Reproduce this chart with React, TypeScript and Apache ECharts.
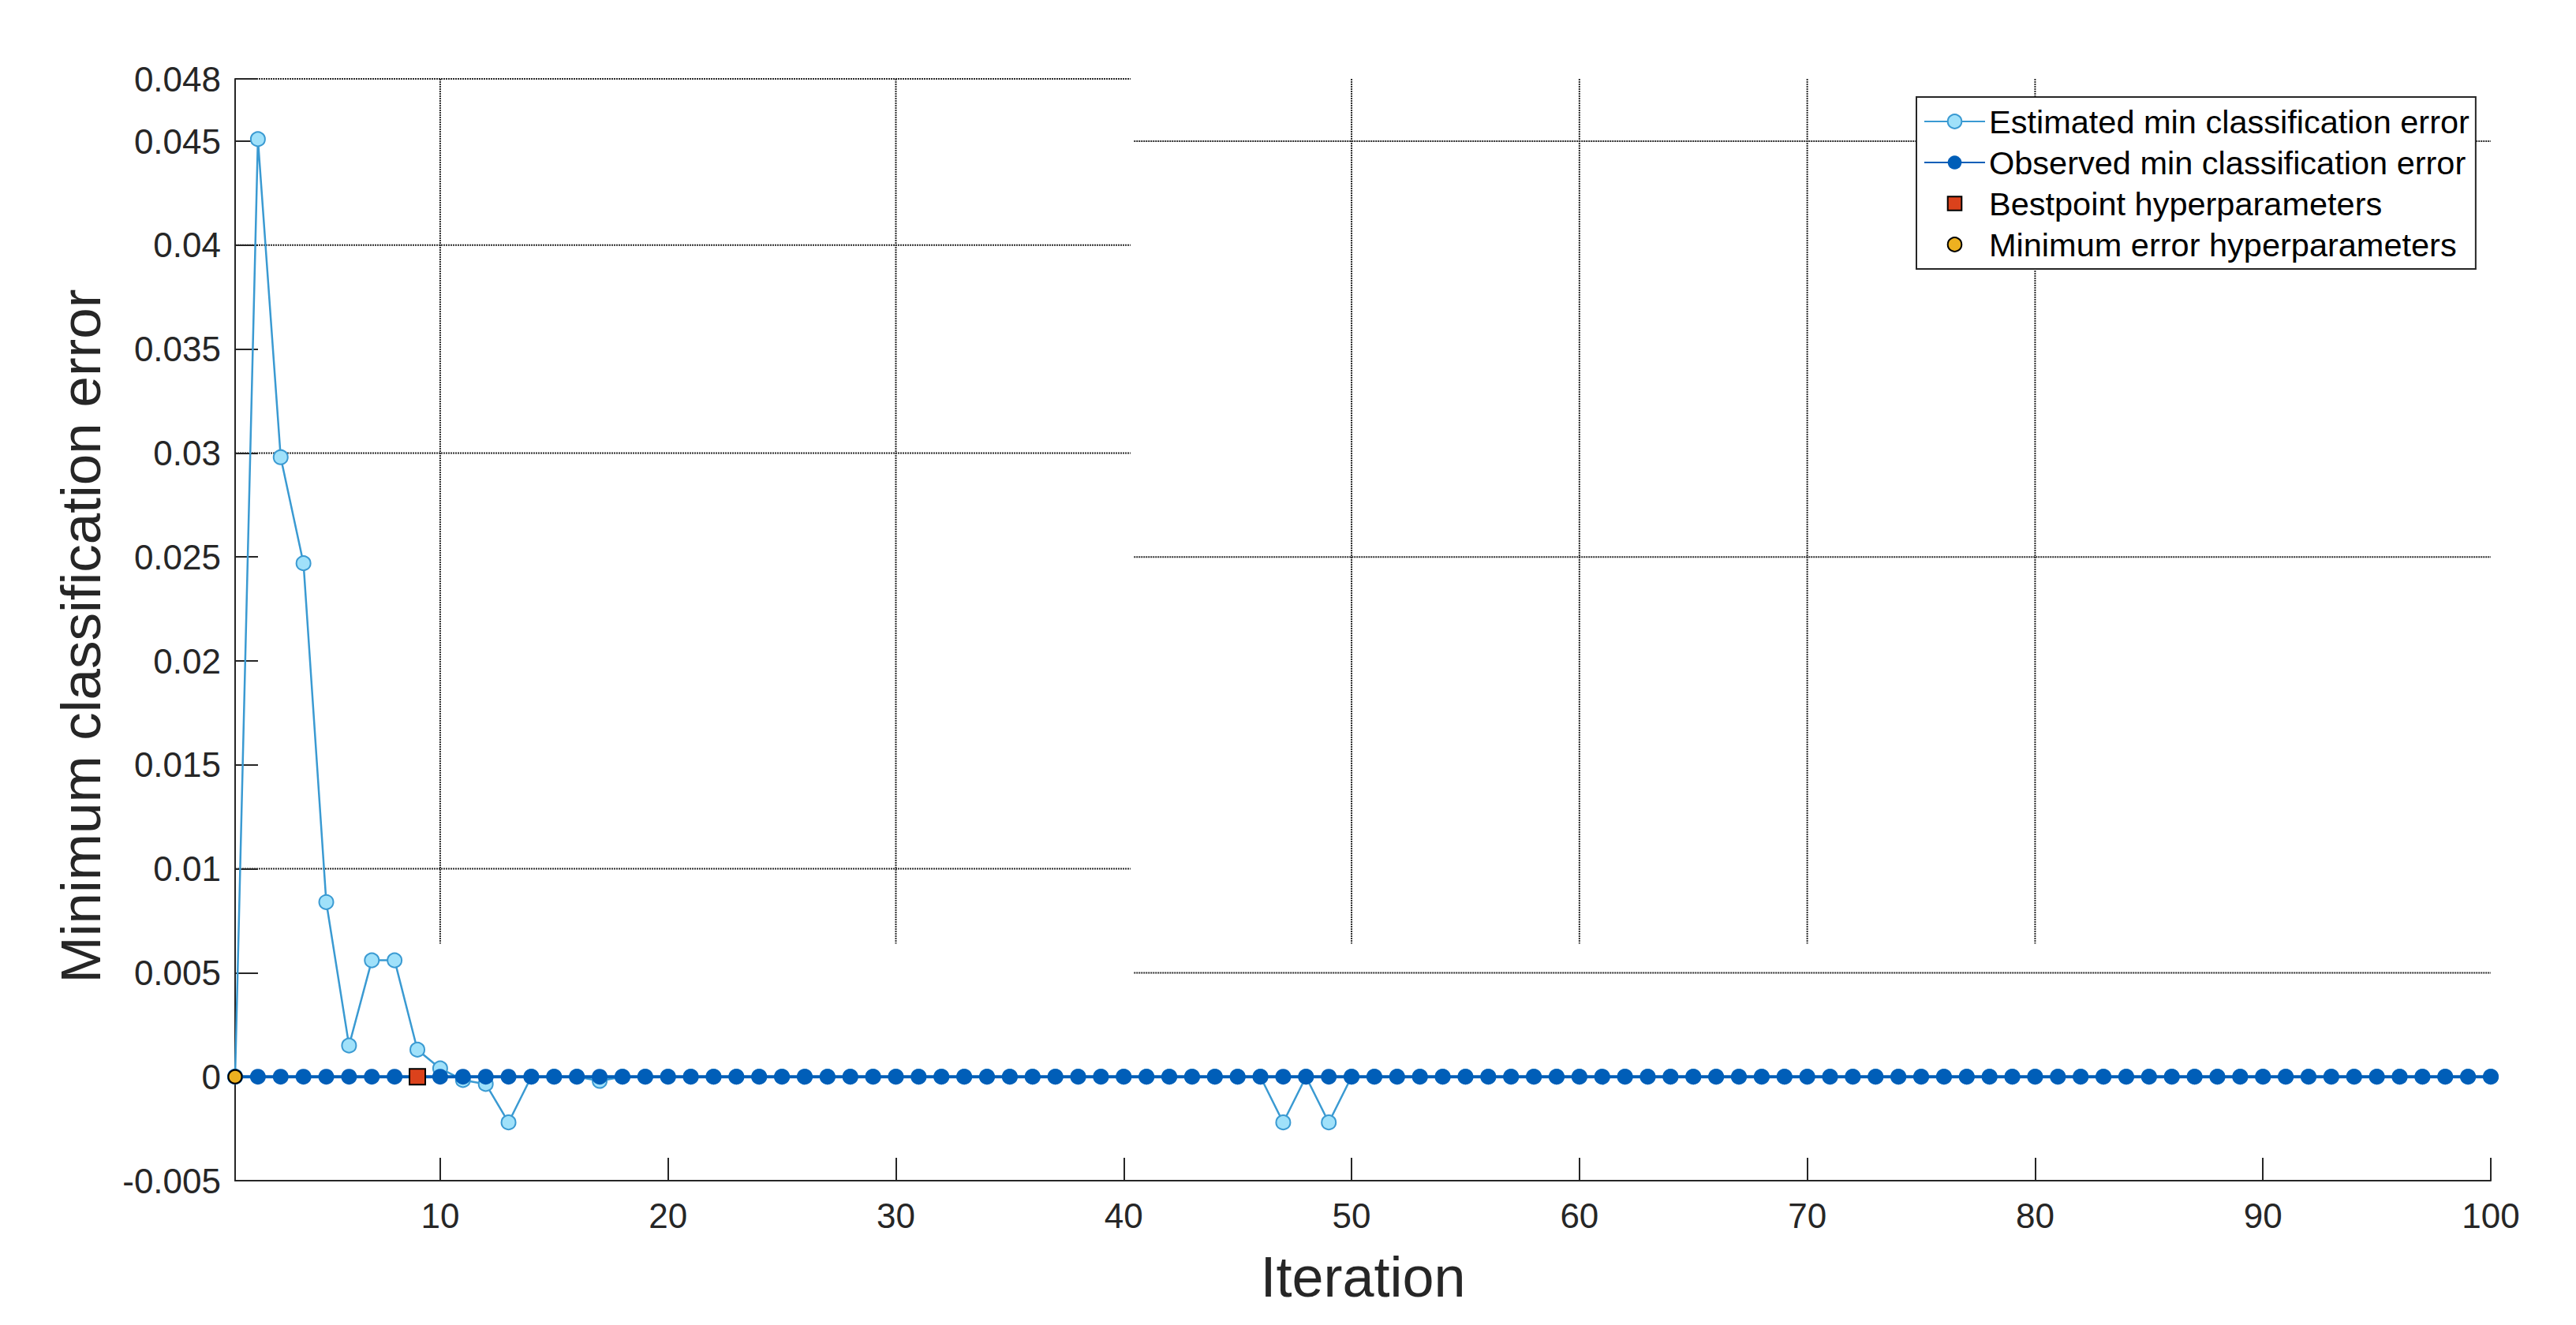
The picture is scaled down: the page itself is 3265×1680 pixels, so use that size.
import React, { useEffect, useRef } from "react";
import * as echarts from "echarts";

const iterations = [
  1, 2, 3, 4, 5, 6, 7, 8, 9, 10,
  11, 12, 13, 14, 15, 16, 17, 18, 19, 20,
  21, 22, 23, 24, 25, 26, 27, 28, 29, 30,
  31, 32, 33, 34, 35, 36, 37, 38, 39, 40,
  41, 42, 43, 44, 45, 46, 47, 48, 49, 50,
  51, 52, 53, 54, 55, 56, 57, 58, 59, 60,
  61, 62, 63, 64, 65, 66, 67, 68, 69, 70,
  71, 72, 73, 74, 75, 76, 77, 78, 79, 80,
  81, 82, 83, 84, 85, 86, 87, 88, 89, 90,
  91, 92, 93, 94, 95, 96, 97, 98, 99, 100,
];

const estimatedMinError = [
  0, 0.0451, 0.0298, 0.0247, 0.0084, 0.0015, 0.0056, 0.0056, 0.0013, 0.0004,
  -0.00016, -0.00035, -0.0022, 0, 0, 0, -0.0002, 0, 0, 0,
  0, 0, 0, 0, 0, 0, 0, 0, 0, 0,
  0, 0, 0, 0, 0, 0, 0, 0, 0, 0,
  0, 0, 0, 0, 0, 0, -0.0022, 0, -0.0022, 0,
  0, 0, 0, 0, 0, 0, 0, 0, 0, 0,
  0, 0, 0, 0, 0, 0, 0, 0, 0, 0,
  0, 0, 0, 0, 0, 0, 0, 0, 0, 0,
  0, 0, 0, 0, 0, 0, 0, 0, 0, 0,
  0, 0, 0, 0, 0, 0, 0, 0, 0, 0,
];

const observedMinError = [
  0, 0, 0, 0, 0, 0, 0, 0, 0, 0,
  0, 0, 0, 0, 0, 0, 0, 0, 0, 0,
  0, 0, 0, 0, 0, 0, 0, 0, 0, 0,
  0, 0, 0, 0, 0, 0, 0, 0, 0, 0,
  0, 0, 0, 0, 0, 0, 0, 0, 0, 0,
  0, 0, 0, 0, 0, 0, 0, 0, 0, 0,
  0, 0, 0, 0, 0, 0, 0, 0, 0, 0,
  0, 0, 0, 0, 0, 0, 0, 0, 0, 0,
  0, 0, 0, 0, 0, 0, 0, 0, 0, 0,
  0, 0, 0, 0, 0, 0, 0, 0, 0, 0,
];

const bestpointIteration = 9;
const bestpointValue = 0;
const minErrorIteration = 1;
const minErrorValue = 0;

const xTicks = [10, 20, 30, 40, 50, 60, 70, 80, 90, 100];
const yTicks = [-0.005, 0, 0.005, 0.01, 0.015, 0.02, 0.025, 0.03, 0.035, 0.04, 0.045, 0.048];

// Broken grid segments as they appear in the reference: [x1, y1, x2, y2]
const gridSegments = [
  [1, 0.048, 40.3, 0.048],
  [1, 0.04, 40.3, 0.04],
  [1, 0.03, 40.3, 0.03],
  [1, 0.01, 40.3, 0.01],
  [10, 0.048, 10, 0.0064],
  [30, 0.048, 30, 0.0064],
  [40.45, 0.045, 100, 0.045],
  [40.45, 0.025, 100, 0.025],
  [40.45, 0.005, 100, 0.005],
  [50, 0.048, 50, 0.0064],
  [60, 0.048, 60, 0.0064],
  [70, 0.048, 70, 0.0064],
  [80, 0.048, 80, 0.0064],
];

const FONT = "'Liberation Sans', Arial, Helvetica, sans-serif";
const AXIS_COLOR = "#262626";

export default function App() {
  const ref = useRef<HTMLDivElement>(null);

  useEffect(() => {
    if (!ref.current) return;
    const chart = echarts.init(ref.current, undefined, { renderer: "svg" });

    const estData = iterations.map((x, i) => [x, estimatedMinError[i]]);
    const obsData = iterations.map((x, i) => [x, observedMinError[i]]);

    const option: any = {
      animation: false,
      backgroundColor: "#ffffff",
      textStyle: { fontFamily: FONT },
      grid: { left: 298, right: 108, top: 100, bottom: 183, containLabel: false },
      legend: {
        orient: "vertical",
        left: 2429,
        top: 123,
        data: [
          "Estimated min classification error",
          "Observed min classification error",
          "Bestpoint hyperparameters",
          "Minimum error hyperparameters",
        ],
        itemWidth: 77,
        itemHeight: 22,
        itemGap: 10,
        padding: [10, 8, 10, 9],
        borderColor: AXIS_COLOR,
        borderWidth: 2,
        backgroundColor: "#ffffff",
        textStyle: { fontFamily: FONT, fontSize: 41.5, color: "#000000", lineHeight: 42 },
      },
      xAxis: {
        type: "value",
        min: 1,
        max: 100,
        name: "Iteration",
        nameLocation: "middle",
        nameGap: 86,
        nameTextStyle: { fontFamily: FONT, fontSize: 72, color: AXIS_COLOR },
        axisLine: { onZero: false, lineStyle: { color: AXIS_COLOR, width: 2 } },
        axisTick: { inside: true, length: 29, customValues: xTicks, lineStyle: { color: AXIS_COLOR, width: 2 } },
        axisLabel: {
          customValues: xTicks,
          fontFamily: FONT,
          fontSize: 44,
          color: AXIS_COLOR,
          margin: 22,
        },
        splitLine: { show: false },
      },
      yAxis: {
        type: "value",
        min: -0.005,
        max: 0.048,
        name: "Minimum classification error",
        nameLocation: "middle",
        nameGap: 160,
        nameTextStyle: { fontFamily: FONT, fontSize: 71, color: AXIS_COLOR, padding: [0, 16, 0, 0] },
        axisLine: { onZero: false, lineStyle: { color: AXIS_COLOR, width: 2 } },
        axisTick: { inside: true, length: 29, customValues: yTicks, lineStyle: { color: AXIS_COLOR, width: 2 } },
        axisLabel: {
          customValues: yTicks,
          fontFamily: FONT,
          fontSize: 44,
          color: AXIS_COLOR,
          margin: 18,
          formatter: (v: number) => String(parseFloat(v.toFixed(4))),
        },
        splitLine: { show: false },
      },
      series: [
        {
          name: "grid",
          type: "custom",
          silent: true,
          z: 0,
          encode: { x: [0, 2], y: [1, 3] },
          data: gridSegments,
          renderItem: (params: any, api: any) => {
            const p1 = api.coord([api.value(0), api.value(1)]);
            const p2 = api.coord([api.value(2), api.value(3)]);
            return {
              type: "line",
              shape: { x1: p1[0], y1: p1[1], x2: p2[0], y2: p2[1] },
              style: { stroke: "#2a2a2a", lineWidth: 2, lineDash: [2, 1] },
              silent: true,
            };
          },
        },
        {
          name: "Estimated min classification error",
          type: "line",
          z: 2,
          data: estData,
          symbol: "circle",
          symbolSize: 18,
          showSymbol: true,
          showAllSymbol: true,
          lineStyle: { color: "#3A9AD2", width: 2.5 },
          itemStyle: { color: "#A0E1FA", borderColor: "#3A9AD2", borderWidth: 2 },
        },
        {
          name: "Observed min classification error",
          type: "line",
          z: 3,
          data: obsData,
          symbol: "circle",
          symbolSize: 20,
          showSymbol: true,
          showAllSymbol: true,
          lineStyle: { color: "#005EB8", width: 4 },
          itemStyle: { color: "#005EB8", borderColor: "#005EB8", borderWidth: 0 },
        },
        {
          name: "Bestpoint hyperparameters",
          type: "line",
          z: 4,
          data: [[bestpointIteration, bestpointValue]],
          symbol: "rect",
          symbolSize: 20,
          showSymbol: true,
          lineStyle: { width: 0, opacity: 0 },
          itemStyle: { color: "#DB421C", borderColor: "#000000", borderWidth: 2 },
        },
        {
          name: "Minimum error hyperparameters",
          type: "line",
          z: 5,
          data: [[minErrorIteration, minErrorValue]],
          symbol: "circle",
          symbolSize: 17,
          showSymbol: true,
          lineStyle: { width: 0, opacity: 0 },
          itemStyle: { color: "#EDB120", borderColor: "#000000", borderWidth: 2 },
        },
      ],
    };

    chart.setOption(option);
    return () => chart.dispose();
  }, []);

  return (
    <div
      ref={ref}
      style={{ position: "fixed", left: 0, top: 0, width: 3265, height: 1680, background: "#fff" }}
    />
  );
}
